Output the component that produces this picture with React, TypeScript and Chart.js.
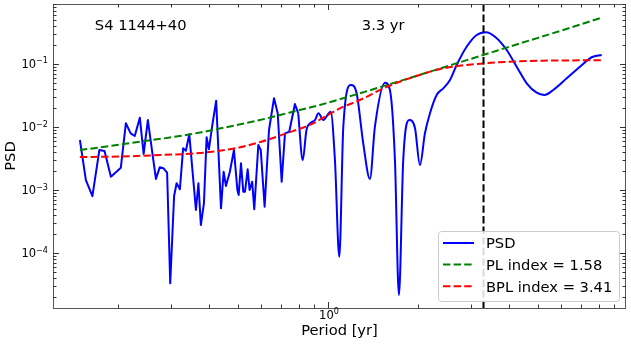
import React, { useEffect, useRef } from "react";
import { Chart, registerables } from "chart.js";

Chart.register(...registerables);

// ---------------- data ----------------
const SOURCE_NAME = "S4 1144+40";
const PEAK_LABEL = "3.3 yr";
const PEAK_PERIOD = 3.3;

const SERIES_LABELS = ["PSD", "PL index = 1.58", "BPL index = 3.41"];
const X_TITLE = "Period [yr]";
const Y_TITLE = "PSD";

const PERIOD = [
  0.149, 0.156, 0.164, 0.173, 0.18, 0.189, 0.204, 0.212, 0.22, 0.227,
  0.236, 0.243, 0.251, 0.267, 0.275, 0.283, 0.291, 0.298, 0.307, 0.313,
  0.321, 0.329, 0.336, 0.345, 0.363, 0.37, 0.377, 0.386, 0.394, 0.401,
  0.411, 0.424, 0.44, 0.449, 0.457, 0.471, 0.486, 0.499, 0.504, 0.513,
  0.522, 0.529, 0.54, 0.548, 0.559, 0.568, 0.586, 0.597, 0.615, 0.636,
  0.661, 0.68, 0.701, 0.719, 0.743, 0.776, 0.796, 0.824, 0.848, 0.878,
  0.905, 0.93, 0.965, 1.021, 1.055, 1.091, 1.125, 1.193, 1.246, 1.311,
  1.38, 1.434, 1.549, 1.609, 1.672, 1.724, 1.782, 1.866, 1.95, 2.026,
  2.105, 2.188, 2.303, 2.423, 2.551, 2.685, 2.899, 3.131, 3.363, 3.604,
  3.942, 4.256, 4.596, 4.963, 5.26, 5.636, 6.249, 6.918, 7.568, 8.173,
];
const PSD = [
  6.22e-3, 1.44e-3, 8.0e-4, 4.31e-3, 4.16e-3, 1.63e-3, 2.26e-3, 1.145e-2, 7.94e-3, 7.2e-3,
  1.405e-2, 3.73e-3, 1.29e-2, 1.5e-3, 2.29e-3, 2.21e-3, 1.88e-3, 3.3e-5, 8.03e-4, 1.28e-3,
  1.03e-3, 4.59e-3, 4.2e-3, 7.66e-3, 4.81e-4, 1.28e-3, 2.78e-4, 6.15e-4, 6.86e-3, 4.43e-3,
  1.01e-2, 2.62e-2, 5.12e-4, 1.95e-3, 1.16e-3, 1.95e-3, 4.31e-3, 1.0e-3, 8.33e-4, 2.65e-3,
  9.4e-4, 9.4e-4, 2.13e-3, 1.0e-3, 1.35e-3, 4.94e-4, 5.18e-3, 4.31e-3, 5.43e-4, 8.96e-3,
  2.86e-2, 1.65e-2, 1.35e-3, 7.94e-3, 8.42e-3, 2.32e-2, 1.65e-2, 2.99e-3, 8.96e-3, 1.17e-2,
  1.29e-2, 1.65e-2, 1.29e-2, 1.75e-2, 2.99e-3, 8.7e-5, 1.01e-2, 4.64e-2, 3.43e-2, 5.51e-3,
  1.5e-3, 1.01e-2, 5.05e-2, 3.87e-2, 2.99e-3, 2.15e-5, 2.99e-3, 1.29e-2, 9.64e-3, 2.49e-3,
  7.94e-3, 1.65e-2, 3.22e-2, 4.11e-2, 5.57e-2, 9.64e-2, 0.188, 0.289, 0.319, 0.271,
  0.167, 9.06e-2, 4.94e-2, 3.5e-2, 3.22e-2, 3.87e-2, 5.93e-2, 9.06e-2, 0.128, 0.139,
];
// the periodogram is a sharp polyline at short periods and smooth at long ones
const SMOOTH_FROM_INDEX = 56;

const PL_PERIOD = [0.149, 0.188, 0.236, 0.297, 0.375, 0.471, 0.593, 0.747, 0.94, 1.278, 1.738, 2.362, 3.212, 4.365, 5.934, 8.173];
const PL_PSD = [4.31e-3, 4.99e-3, 5.84e-3, 6.81e-3, 8.18e-3, 1.02e-2, 1.29e-2, 1.7e-2, 2.24e-2, 3.43e-2, 5.37e-2, 8.48e-2, 0.134, 0.212, 0.334, 0.543];

const BPL_PERIOD = [0.149, 0.203, 0.275, 0.375, 0.49, 0.603, 0.736, 0.871, 1.096, 1.278, 1.573, 1.95, 2.417, 3.337, 5.208, 8.173];
const BPL_PSD = [3.34e-3, 3.4e-3, 3.59e-3, 3.87e-3, 4.59e-3, 5.89e-3, 8.1e-3, 1.08e-2, 1.98e-2, 2.68e-2, 4.36e-2, 6.33e-2, 8.5e-2, 0.1026, 0.1128, 0.1145];

const X_MIN = 0.1212;
const X_MAX = 9.85;
const Y_MIN = 1.34e-5;
const Y_MAX = 0.896;

const TICK_BASE = "10";
const X_TICKS = [1];
const X_TICK_EXPONENTS = ["0"];
const Y_TICKS = [1e-4, 1e-3, 1e-2, 1e-1];
const Y_TICK_EXPONENTS = ["\u22124", "\u22123", "\u22122", "\u22121"];
const MINOR_MULTIPLIERS = [2, 3, 4, 5, 6, 7, 8, 9];
const X_DECADES = [0.1, 1];
const Y_DECADES = [1e-5, 1e-4, 1e-3, 1e-2, 1e-1];

// ---------------- styles ----------------
const FONT = "'DejaVu Sans', 'Liberation Sans', sans-serif";
const BLUE = "#0000ff";
const GREEN = "#008000";
const RED = "#ff0000";
const DASH = [7.4, 3.2];
const LEGEND_COLORS = [BLUE, GREEN, RED];
const LEGEND_DASHED = [false, true, true];
const TICK_FONT = 11.5;
const SUP_FONT = 8.1;

const decorPlugin = {
  id: "decor",
  afterDatasetsDraw(chart: any) {
    const { ctx, chartArea, scales } = chart;
    const { left, right, top, bottom } = chartArea;
    const xs = scales.x;
    const ys = scales.y;
    ctx.save();

    // vertical line at the peak period
    const px = xs.getPixelForValue(PEAK_PERIOD);
    ctx.strokeStyle = "#000";
    ctx.lineWidth = 2;
    ctx.setLineDash(DASH);
    ctx.beginPath();
    ctx.moveTo(px, top);
    ctx.lineTo(px, bottom);
    ctx.stroke();
    ctx.setLineDash([]);

    // frame
    ctx.strokeStyle = "#555";
    ctx.lineWidth = 1;
    ctx.strokeRect(left + 0.5, top + 0.5, right - left - 1, bottom - top);

    // ticks, inward on all sides
    ctx.strokeStyle = "#333";
    ctx.beginPath();
    const xTick = (v: number, len: number) => {
      const p = xs.getPixelForValue(v);
      if (p < left - 0.5 || p > right + 0.5) return;
      const q = Math.round(p) + 0.5;
      ctx.moveTo(q, bottom);
      ctx.lineTo(q, bottom - len);
      ctx.moveTo(q, top);
      ctx.lineTo(q, top + len);
    };
    const yTick = (v: number, len: number) => {
      const p = ys.getPixelForValue(v);
      if (p < top - 0.5 || p > bottom + 0.5) return;
      const q = Math.round(p) + 0.5;
      ctx.moveTo(left, q);
      ctx.lineTo(left + len, q);
      ctx.moveTo(right, q);
      ctx.lineTo(right - len, q);
    };
    X_TICKS.forEach((v) => xTick(v, 6));
    X_DECADES.forEach((d) => MINOR_MULTIPLIERS.forEach((m) => xTick(d * m, 3.5)));
    Y_TICKS.forEach((v) => yTick(v, 6));
    Y_DECADES.forEach((d) => MINOR_MULTIPLIERS.forEach((m) => yTick(d * m, 3.5)));
    ctx.stroke();

    // tick labels as 10 with a raised exponent
    ctx.fillStyle = "#000";
    ctx.textBaseline = "alphabetic";
    ctx.textAlign = "left";
    const drawPow = (exp: string, x: number, baseline: number, align: "right" | "center") => {
      ctx.font = `${TICK_FONT}px ${FONT}`;
      const wb = ctx.measureText(TICK_BASE).width;
      ctx.font = `${SUP_FONT}px ${FONT}`;
      const we = ctx.measureText(exp).width;
      const total = wb + we;
      const x0 = align === "right" ? x - total : x - total / 2;
      ctx.font = `${TICK_FONT}px ${FONT}`;
      ctx.fillText(TICK_BASE, x0, baseline);
      ctx.font = `${SUP_FONT}px ${FONT}`;
      ctx.fillText(exp, x0 + wb, baseline - 4.8);
    };
    Y_TICKS.forEach((v, i) => {
      drawPow(Y_TICK_EXPONENTS[i], left - 5, ys.getPixelForValue(v) + 4.3, "right");
    });
    X_TICKS.forEach((v, i) => {
      drawPow(X_TICK_EXPONENTS[i], xs.getPixelForValue(v) + 1, bottom + 11, "center");
    });

    // annotations
    ctx.font = `14.7px ${FONT}`;
    const w = right - left;
    const h = bottom - top;
    ctx.fillText(SOURCE_NAME, left + 0.073 * w, top + 0.086 * h);
    ctx.fillText(PEAK_LABEL, left + 0.539 * w, top + 0.086 * h);

    // legend
    const bx = 438.5, by = 231.5, bw = 181, bh = 70, r = 3;
    ctx.beginPath();
    ctx.moveTo(bx + r, by);
    ctx.lineTo(bx + bw - r, by);
    ctx.arcTo(bx + bw, by, bx + bw, by + r, r);
    ctx.lineTo(bx + bw, by + bh - r);
    ctx.arcTo(bx + bw, by + bh, bx + bw - r, by + bh, r);
    ctx.lineTo(bx + r, by + bh);
    ctx.arcTo(bx, by + bh, bx, by + bh - r, r);
    ctx.lineTo(bx, by + r);
    ctx.arcTo(bx, by, bx + r, by, r);
    ctx.closePath();
    ctx.fillStyle = "rgba(255,255,255,0.85)";
    ctx.fill();
    ctx.strokeStyle = "#cccccc";
    ctx.lineWidth = 1;
    ctx.stroke();

    SERIES_LABELS.forEach((label, i) => {
      const rowY = 243 + i * 21.6;
      ctx.strokeStyle = LEGEND_COLORS[i];
      ctx.lineWidth = 2;
      ctx.setLineDash(LEGEND_DASHED[i] ? DASH : []);
      ctx.beginPath();
      ctx.moveTo(443, rowY);
      ctx.lineTo(474, rowY);
      ctx.stroke();
      ctx.setLineDash([]);
      ctx.fillStyle = "#000";
      ctx.fillText(label, 486, rowY + 5.3);
    });

    ctx.restore();
  },
};

export default function App() {
  const canvasRef = useRef<HTMLCanvasElement | null>(null);

  useEffect(() => {
    const canvas = canvasRef.current;
    if (!canvas) return;
    const toXY = (xs: number[], ys: number[]) => xs.map((x, i) => ({ x, y: ys[i] }));
    const psdPoints = toXY(PERIOD, PSD);

    const chart = new Chart(canvas, {
      type: "line",
      data: {
        datasets: [
          {
            label: SERIES_LABELS[0],
            data: psdPoints.slice(0, SMOOTH_FROM_INDEX + 1),
            borderColor: BLUE,
            borderWidth: 2,
            pointRadius: 0,
            fill: false,
            tension: 0,
            borderJoinStyle: "round",
            order: 4,
          },
          {
            label: SERIES_LABELS[0],
            data: psdPoints.slice(SMOOTH_FROM_INDEX),
            borderColor: BLUE,
            borderWidth: 2,
            pointRadius: 0,
            fill: false,
            cubicInterpolationMode: "monotone",
            order: 3,
          },
          {
            label: SERIES_LABELS[1],
            data: toXY(PL_PERIOD, PL_PSD),
            borderColor: GREEN,
            borderWidth: 2,
            borderDash: DASH,
            pointRadius: 0,
            fill: false,
            cubicInterpolationMode: "monotone",
            order: 2,
          },
          {
            label: SERIES_LABELS[2],
            data: toXY(BPL_PERIOD, BPL_PSD),
            borderColor: RED,
            borderWidth: 2,
            borderDash: DASH,
            pointRadius: 0,
            fill: false,
            cubicInterpolationMode: "monotone",
            order: 1,
          },
        ],
      },
      options: {
        animation: false,
        responsive: false,
        devicePixelRatio: 1,
        events: [],
        layout: { padding: { left: 0, top: 4, right: 5, bottom: 0 } },
        plugins: { legend: { display: false }, tooltip: { enabled: false } },
        scales: {
          x: {
            type: "logarithmic",
            position: "bottom",
            min: X_MIN,
            max: X_MAX,
            grid: { display: false, drawTicks: false },
            border: { display: false },
            ticks: { display: false },
            afterFit: (s: any) => {
              s.height = 36;
              s.paddingLeft = 0;
              s.paddingRight = 0;
            },
            title: {
              display: true,
              text: X_TITLE,
              color: "#000",
              font: { family: FONT, size: 14.7 },
              padding: { top: 0, bottom: 4 },
            },
          },
          y: {
            type: "logarithmic",
            position: "left",
            min: Y_MIN,
            max: Y_MAX,
            grid: { display: false, drawTicks: false },
            border: { display: false },
            ticks: { display: false },
            afterFit: (s: any) => {
              s.width = 53;
              s.paddingTop = 0;
              s.paddingBottom = 0;
            },
            title: {
              display: true,
              text: Y_TITLE,
              color: "#000",
              font: { family: FONT, size: 14.7 },
              padding: { top: 2, bottom: 0 },
            },
          },
        },
      },
      plugins: [decorPlugin],
    } as any);

    return () => chart.destroy();
  }, []);

  return (
    <div style={{ position: "fixed", left: 0, top: 0, width: 631, height: 344, background: "#fff" }}>
      <canvas ref={canvasRef} width={631} height={344} style={{ display: "block" }} />
    </div>
  );
}
